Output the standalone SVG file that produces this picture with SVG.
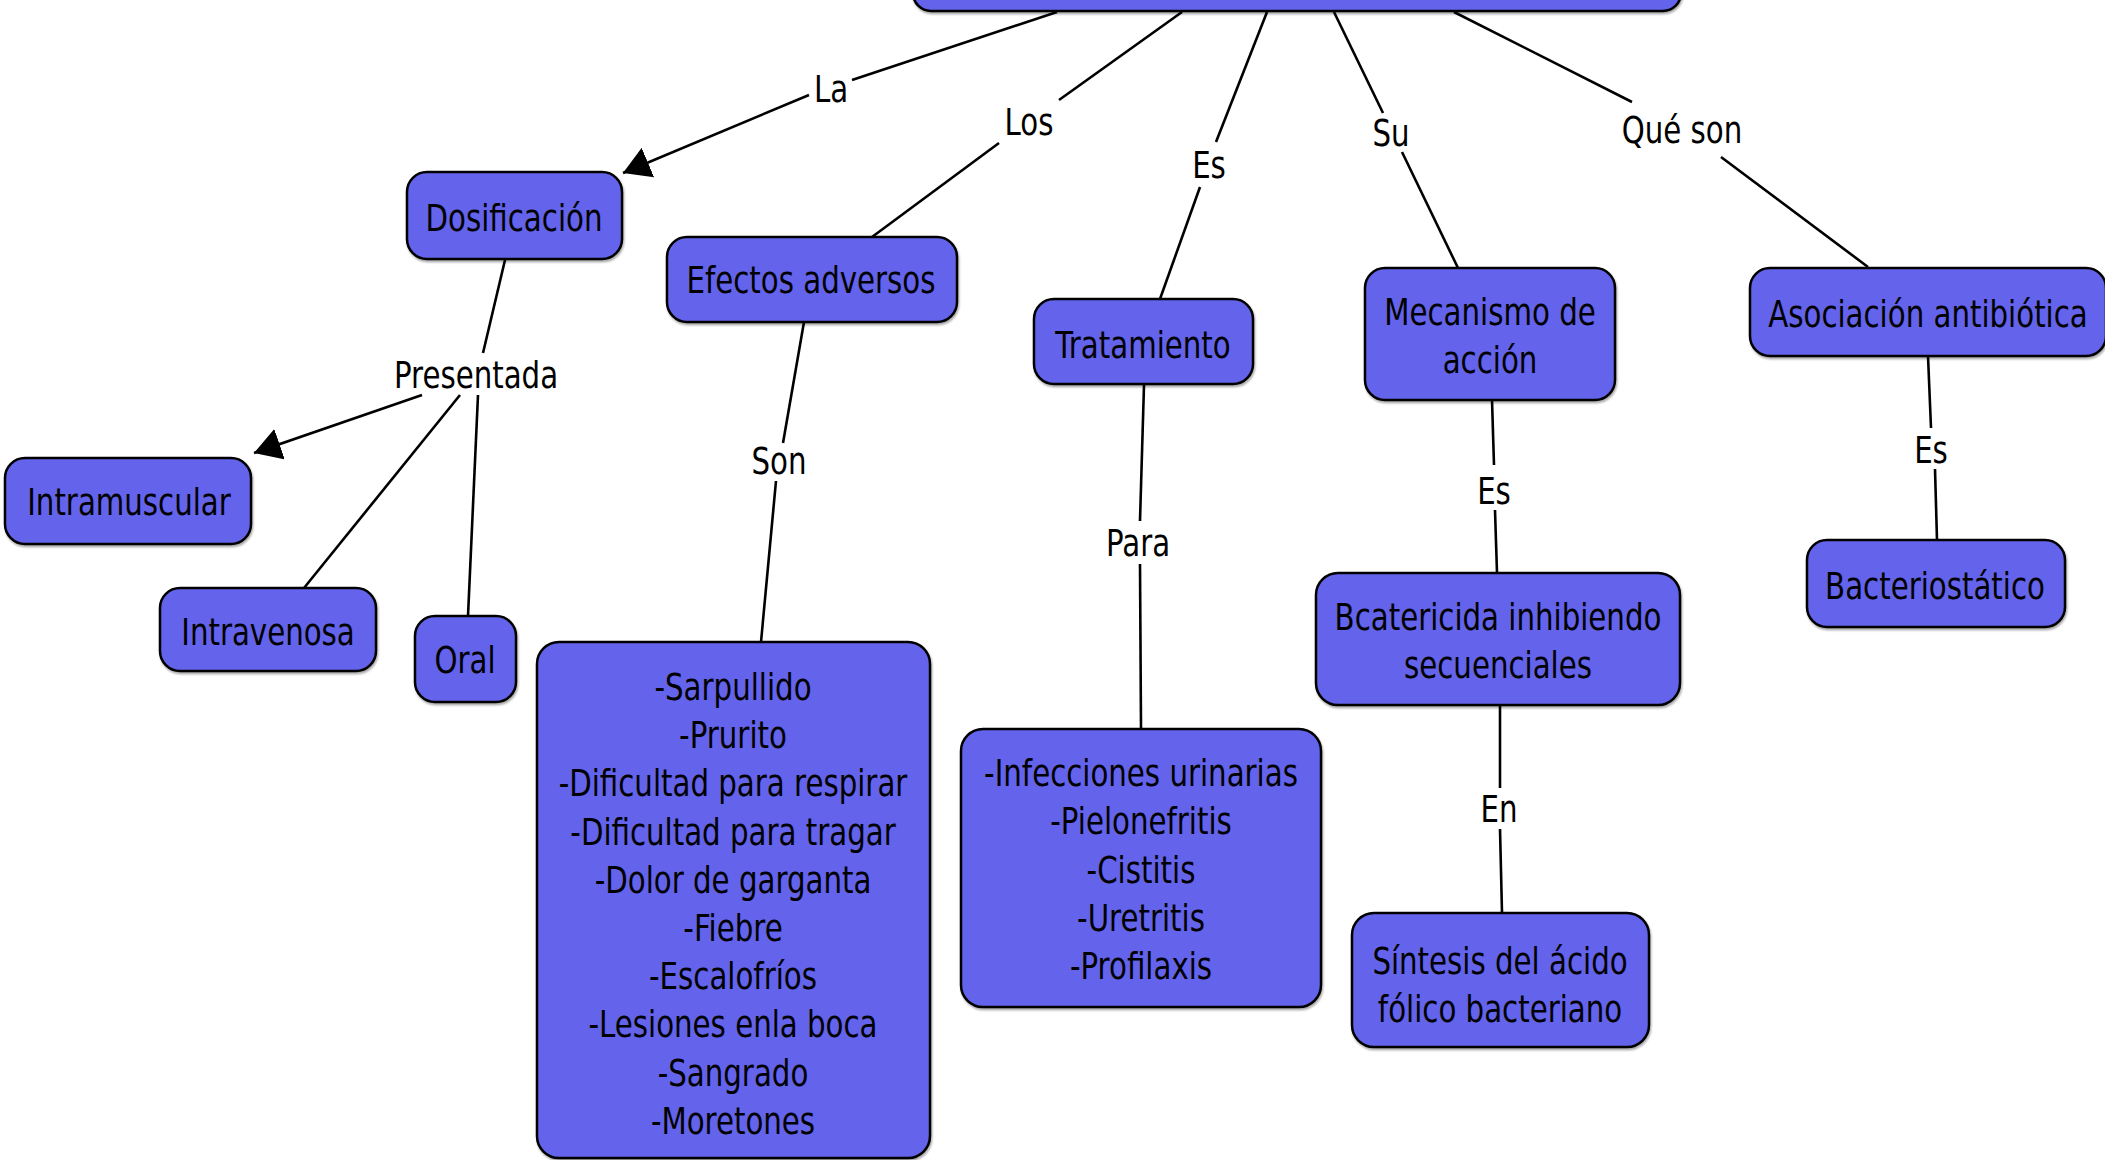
<svg xmlns="http://www.w3.org/2000/svg" width="2105" height="1160" viewBox="0 0 2105 1160">
<style>
.box{fill:#6464EB;stroke:#000;stroke-width:2.5;filter:url(#sh)}
.t{font-family:"DejaVu Sans","Verdana",sans-serif;font-size:38px;fill:#000;text-anchor:middle}
.ln{stroke:#000;stroke-width:2.6;fill:none}
</style>
<defs>
<filter id="sh" x="-5%" y="-5%" width="110%" height="115%">
<feDropShadow dx="1" dy="2" stdDeviation="1.2" flood-color="#000" flood-opacity="0.35"/>
</filter>
<marker id="ah" markerUnits="userSpaceOnUse" markerWidth="28" markerHeight="32" refX="27" refY="16" orient="auto">
<path d="M0,0 L27,16 L0,32 Z" fill="#000"/>
</marker>
</defs>
<rect width="2105" height="1160" fill="#fff"/>

<g id="connectors">
<line class="ln" x1="1057" y1="12" x2="852" y2="80"/>
<line class="ln" x1="809" y1="95" x2="623" y2="173" marker-end="url(#ah)"/>
<line class="ln" x1="1182" y1="12" x2="1059" y2="100"/>
<line class="ln" x1="999" y1="143" x2="872" y2="237"/>
<line class="ln" x1="1267" y1="12" x2="1216" y2="142"/>
<line class="ln" x1="1200" y1="187" x2="1160" y2="299"/>
<line class="ln" x1="1334" y1="12" x2="1383" y2="113"/>
<line class="ln" x1="1402" y1="152" x2="1458" y2="268"/>
<line class="ln" x1="1454" y1="12" x2="1632" y2="102"/>
<line class="ln" x1="1721" y1="157" x2="1868" y2="267"/>
<line class="ln" x1="505" y1="260" x2="483" y2="353"/>
<line class="ln" x1="422" y1="395" x2="254" y2="453" marker-end="url(#ah)"/>
<line class="ln" x1="460" y1="395" x2="304" y2="588"/>
<line class="ln" x1="478" y1="395" x2="468" y2="616"/>
<line class="ln" x1="804" y1="322" x2="783" y2="443"/>
<line class="ln" x1="776" y1="481" x2="761" y2="642"/>
<line class="ln" x1="1144" y1="385" x2="1140" y2="521"/>
<line class="ln" x1="1140" y1="564" x2="1141" y2="729"/>
<line class="ln" x1="1492" y1="400" x2="1494" y2="465"/>
<line class="ln" x1="1495" y1="510" x2="1497" y2="573"/>
<line class="ln" x1="1500" y1="705" x2="1500" y2="788"/>
<line class="ln" x1="1500" y1="829" x2="1502" y2="913"/>
<line class="ln" x1="1928" y1="356" x2="1931" y2="428"/>
<line class="ln" x1="1935" y1="469" x2="1937" y2="540"/>
<text class="t" transform="translate(831 102) scale(0.77 1)">La</text>
<text class="t" transform="translate(1029 135) scale(0.77 1)">Los</text>
<text class="t" transform="translate(1209 178) scale(0.77 1)">Es</text>
<text class="t" transform="translate(1391 146) scale(0.77 1)">Su</text>
<text class="t" transform="translate(1682 143) scale(0.77 1)">Qué son</text>
<text class="t" transform="translate(476 388) scale(0.77 1)">Presentada</text>
<text class="t" transform="translate(779 474) scale(0.77 1)">Son</text>
<text class="t" transform="translate(1138 556) scale(0.77 1)">Para</text>
<text class="t" transform="translate(1494 504) scale(0.77 1)">Es</text>
<text class="t" transform="translate(1499 822) scale(0.77 1)">En</text>
<text class="t" transform="translate(1931 463) scale(0.77 1)">Es</text>
</g>

<g id="top"><rect class="box" x="913" y="-70" width="768" height="81" rx="18"/></g>

<g id="dosificacion"><rect class="box" x="407" y="172" width="215" height="87" rx="20"/>
<text class="t" transform="translate(514 231) scale(0.77 1)">Dosificación</text></g>

<g id="efectos"><rect class="box" x="667" y="237" width="290" height="85" rx="20"/>
<text class="t" transform="translate(811 293) scale(0.77 1)">Efectos adversos</text></g>

<g id="tratamiento"><rect class="box" x="1034" y="299" width="219" height="85" rx="20"/>
<text class="t" transform="translate(1143 358) scale(0.77 1)">Tratamiento</text></g>

<g id="mecanismo"><rect class="box" x="1365" y="268" width="250" height="132" rx="20"/>
<text class="t" transform="translate(1490 325) scale(0.77 1)"><tspan x="0">Mecanismo de</tspan><tspan x="0" dy="48">acción</tspan></text></g>

<g id="asociacion"><rect class="box" x="1750" y="268" width="356" height="88" rx="20"/>
<text class="t" transform="translate(1928 327) scale(0.77 1)">Asociación antibiótica</text></g>

<g id="intramuscular"><rect class="box" x="5" y="458" width="246" height="86" rx="20"/>
<text class="t" transform="translate(129 515) scale(0.77 1)">Intramuscular</text></g>

<g id="intravenosa"><rect class="box" x="160" y="588" width="216" height="83" rx="20"/>
<text class="t" transform="translate(268 645) scale(0.77 1)">Intravenosa</text></g>

<g id="oral"><rect class="box" x="415" y="616" width="101" height="86" rx="20"/>
<text class="t" transform="translate(465 673) scale(0.77 1)">Oral</text></g>

<g id="efectos-lista"><rect class="box" x="537" y="642" width="393" height="516" rx="22"/>
<text class="t" transform="translate(733 700) scale(0.77 1)"><tspan x="0">-Sarpullido</tspan><tspan x="0" dy="48.2">-Prurito</tspan><tspan x="0" dy="48.2">-Dificultad para respirar</tspan><tspan x="0" dy="48.2">-Dificultad para tragar</tspan><tspan x="0" dy="48.2">-Dolor de garganta</tspan><tspan x="0" dy="48.2">-Fiebre</tspan><tspan x="0" dy="48.2">-Escalofríos</tspan><tspan x="0" dy="48.2">-Lesiones enla boca</tspan><tspan x="0" dy="48.2">-Sangrado</tspan><tspan x="0" dy="48.2">-Moretones</tspan></text></g>

<g id="tratamiento-lista"><rect class="box" x="961" y="729" width="360" height="278" rx="22"/>
<text class="t" transform="translate(1141 786) scale(0.77 1)"><tspan x="0">-Infecciones urinarias</tspan><tspan x="0" dy="48.3">-Pielonefritis</tspan><tspan x="0" dy="48.3">-Cistitis</tspan><tspan x="0" dy="48.3">-Uretritis</tspan><tspan x="0" dy="48.3">-Profilaxis</tspan></text></g>

<g id="bactericida"><rect class="box" x="1316" y="573" width="364" height="132" rx="22"/>
<text class="t" transform="translate(1498 630) scale(0.77 1)"><tspan x="0">Bcatericida inhibiendo</tspan><tspan x="0" dy="48.5">secuenciales</tspan></text></g>

<g id="sintesis"><rect class="box" x="1352" y="913" width="297" height="134" rx="22"/>
<text class="t" transform="translate(1500 974) scale(0.77 1)"><tspan x="0">Síntesis del ácido</tspan><tspan x="0" dy="48.5">fólico bacteriano</tspan></text></g>

<g id="bacteriostatico"><rect class="box" x="1807" y="540" width="258" height="87" rx="20"/>
<text class="t" transform="translate(1935 599) scale(0.77 1)">Bacteriostático</text></g>
</svg>
